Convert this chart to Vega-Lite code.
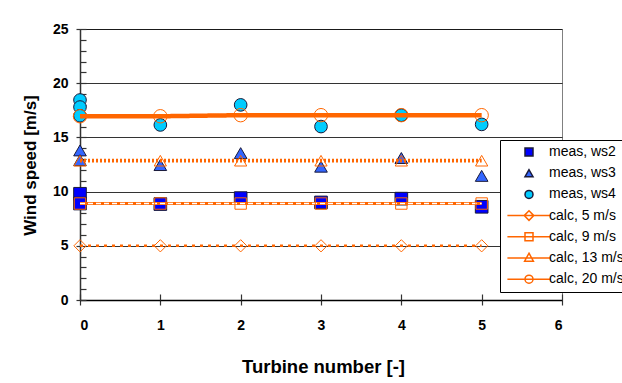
{
  "$schema": "https://vega.github.io/schema/vega-lite/v6.json",
  "width": 482,
  "height": 271,
  "autosize": "none",
  "padding": {"left": 80, "top": 29, "right": 60, "bottom": 83},
  "background": "white",
  "config": {
    "font": "Liberation Sans",
    "view": {"stroke": "#808080", "strokeWidth": 1},
    "axis": {
      "labelFont": "Liberation Sans", "labelFontWeight": "bold", "labelFontSize": 14, "labelColor": "black",
      "titleFont": "Liberation Sans", "titleFontWeight": "bold", "titleFontSize": 17, "titleColor": "black",
      "domainColor": "#333333", "tickColor": "#333333", "domainWidth": 1.5, "tickWidth": 1.2
    },
    "legend": {
      "orient": "none", "legendX": 420, "legendY": 111,
      "strokeColor": "black", "fillColor": "white", "padding": 5,
      "labelFont": "Liberation Sans", "labelFontSize": 14, "labelColor": "black",
      "symbolSize": 64, "symbolStrokeWidth": 1.5, "rowPadding": 5.2, "gridAlign": "all",
      "symbolOffset": 17, "labelOffset": 13
    }
  },
  "data": {"values": [
    {"turbine": 0, "speed": 9.8, "series": "meas, ws2"},
    {"turbine": 0, "speed": 8.9, "series": "meas, ws2"},
    {"turbine": 1, "speed": 8.85, "series": "meas, ws2"},
    {"turbine": 2, "speed": 9.4, "series": "meas, ws2"},
    {"turbine": 3, "speed": 9.0, "series": "meas, ws2"},
    {"turbine": 4, "speed": 9.35, "series": "meas, ws2"},
    {"turbine": 5, "speed": 8.6, "series": "meas, ws2"},
    {"turbine": 0, "speed": 13.8, "series": "meas, ws3"},
    {"turbine": 0, "speed": 12.9, "series": "meas, ws3"},
    {"turbine": 1, "speed": 12.45, "series": "meas, ws3"},
    {"turbine": 2, "speed": 13.55, "series": "meas, ws3"},
    {"turbine": 3, "speed": 12.3, "series": "meas, ws3"},
    {"turbine": 4, "speed": 13.1, "series": "meas, ws3"},
    {"turbine": 5, "speed": 11.45, "series": "meas, ws3"},
    {"turbine": 0, "speed": 18.45, "series": "meas, ws4"},
    {"turbine": 0, "speed": 17.8, "series": "meas, ws4"},
    {"turbine": 0, "speed": 17.0, "series": "meas, ws4"},
    {"turbine": 1, "speed": 16.15, "series": "meas, ws4"},
    {"turbine": 2, "speed": 18.0, "series": "meas, ws4"},
    {"turbine": 3, "speed": 16.0, "series": "meas, ws4"},
    {"turbine": 4, "speed": 17.05, "series": "meas, ws4"},
    {"turbine": 5, "speed": 16.2, "series": "meas, ws4"},
    {"turbine": 0, "speed": 5.0, "series": "calc, 5 m/s"},
    {"turbine": 1, "speed": 5.0, "series": "calc, 5 m/s"},
    {"turbine": 2, "speed": 5.0, "series": "calc, 5 m/s"},
    {"turbine": 3, "speed": 5.0, "series": "calc, 5 m/s"},
    {"turbine": 4, "speed": 5.0, "series": "calc, 5 m/s"},
    {"turbine": 5, "speed": 5.0, "series": "calc, 5 m/s"},
    {"turbine": 0, "speed": 8.9, "series": "calc, 9 m/s"},
    {"turbine": 1, "speed": 8.9, "series": "calc, 9 m/s"},
    {"turbine": 2, "speed": 8.9, "series": "calc, 9 m/s"},
    {"turbine": 3, "speed": 8.9, "series": "calc, 9 m/s"},
    {"turbine": 4, "speed": 8.9, "series": "calc, 9 m/s"},
    {"turbine": 5, "speed": 8.9, "series": "calc, 9 m/s"},
    {"turbine": 0, "speed": 12.85, "series": "calc, 13 m/s"},
    {"turbine": 1, "speed": 12.85, "series": "calc, 13 m/s"},
    {"turbine": 2, "speed": 12.85, "series": "calc, 13 m/s"},
    {"turbine": 3, "speed": 12.85, "series": "calc, 13 m/s"},
    {"turbine": 4, "speed": 12.85, "series": "calc, 13 m/s"},
    {"turbine": 5, "speed": 12.85, "series": "calc, 13 m/s"},
    {"turbine": 0, "speed": 16.95, "series": "calc, 20 m/s"},
    {"turbine": 1, "speed": 16.95, "series": "calc, 20 m/s"},
    {"turbine": 2, "speed": 17.05, "series": "calc, 20 m/s"},
    {"turbine": 3, "speed": 17.05, "series": "calc, 20 m/s"},
    {"turbine": 4, "speed": 17.05, "series": "calc, 20 m/s"},
    {"turbine": 5, "speed": 17.05, "series": "calc, 20 m/s"}
  ]},
  "layer": [
    {
      "transform": [{"filter": "indexof(datum.series, 'meas') === 0"}],
      "mark": {"type": "point", "filled": true, "size": 160, "strokeWidth": 1, "opacity": 1},
      "encoding": {
        "x": {"field": "turbine", "type": "quantitative", "scale": {"domain": [0, 6], "nice": false},
          "axis": {"orient": "bottom", "values": [0, 1, 2, 3, 4, 5, 6], "tickSize": 5, "labelPadding": 13, "grid": false,
            "title": "Turbine number [-]", "titleX": 243, "titleY": 66, "titleBaseline": "middle", "titleFontSize": 18.5, "domainColor": "#000000"}},
        "y": {"field": "speed", "type": "quantitative", "scale": {"domain": [0, 25], "nice": false},
          "axis": {"orient": "left", "values": [0, 5, 10, 15, 20, 25], "tickSize": 4, "labelPadding": 8, "grid": true,
            "gridColor": "#000000", "gridOpacity": 0.8, "gridWidth": 1,
            "title": "Wind speed [m/s]", "titleX": -50, "titleY": 136, "titleBaseline": "middle", "titleAlign": "center", "titleAngle": -90}},
        "shape": {"field": "series", "type": "nominal", "title": null,
          "scale": {"domain": ["meas, ws2", "meas, ws3", "meas, ws4", "calc, 5 m/s", "calc, 9 m/s", "calc, 13 m/s", "calc, 20 m/s"],
            "range": ["square", "triangle-up", "circle",
              "M-5.4,0H5.4M0,-1.2L1.2,0L0,1.2L-1.2,0Z",
              "M-5.4,0H5.4M-1,-1H1V1H-1Z",
              "M-5.4,0H5.4M0,-1.2L1.1,0.8H-1.1Z",
              "M-5.4,0H5.4M1,0A1,1 0 1,1 -1,0A1,1 0 1,1 1,0Z"]}},
        "fill": {"field": "series", "type": "nominal", "title": null,
          "scale": {"domain": ["meas, ws2", "meas, ws3", "meas, ws4", "calc, 5 m/s", "calc, 9 m/s", "calc, 13 m/s", "calc, 20 m/s"],
            "range": ["#0000FF", "#3366FF", "#00CCFF", "#FFFFFF", "#FFFFFF", "#FFFFFF", "#FFFFFF"]}},
        "stroke": {"field": "series", "type": "nominal", "title": null,
          "scale": {"domain": ["meas, ws2", "meas, ws3", "meas, ws4", "calc, 5 m/s", "calc, 9 m/s", "calc, 13 m/s", "calc, 20 m/s"],
            "range": ["#1a1a3a", "#1a1a3a", "#1a1a3a", "#FF6600", "#FF6600", "#FF6600", "#FF6600"]}}
      }
    },
    {
      "transform": [{"filter": "indexof(datum.series, 'calc') === 0"}],
      "mark": {"type": "line"},
      "encoding": {
        "x": {"field": "turbine", "type": "quantitative", "scale": {"domain": [0, 6], "nice": false},
          "axis": {"orient": "bottom", "values": [0, 1, 2, 3, 4, 5, 6], "tickSize": -6, "labels": false, "domain": false, "grid": false, "title": null}},
        "y": {"field": "speed", "type": "quantitative", "scale": {"domain": [0, 25], "nice": false},
          "axis": {"orient": "left", "values": [0,1,2,3,4,5,6,7,8,9,10,11,12,13,14,15,16,17,18,19,20,21,22,23,24,25], "tickSize": -6, "labels": false, "domain": false, "grid": false, "title": null}},
        "stroke": {"field": "series", "type": "nominal", "title": null,
          "scale": {"domain": ["meas, ws2", "meas, ws3", "meas, ws4", "calc, 5 m/s", "calc, 9 m/s", "calc, 13 m/s", "calc, 20 m/s"],
            "range": ["#1a1a3a", "#1a1a3a", "#1a1a3a", "#FF6600", "#FF6600", "#FF6600", "#FF6600"]}},
        "strokeDash": {"field": "series", "type": "nominal", "legend": null,
          "scale": {"domain": ["calc, 5 m/s", "calc, 9 m/s", "calc, 13 m/s", "calc, 20 m/s"],
            "range": [[3, 5], [1, 0], [2, 2], [1, 0]]}},
        "strokeWidth": {"field": "series", "type": "nominal", "legend": null,
          "scale": {"domain": ["calc, 5 m/s", "calc, 9 m/s", "calc, 13 m/s", "calc, 20 m/s"],
            "range": [2.5, 4.5, 3, 2.2]}}
      }
    },
    {
      "transform": [{"filter": "datum.series === 'calc, 9 m/s'"}],
      "mark": {"type": "line", "stroke": "#FFFFFF", "strokeWidth": 1.5, "strokeDash": [5, 3]},
      "encoding": {
        "x": {"field": "turbine", "type": "quantitative", "axis": null},
        "y": {"field": "speed", "type": "quantitative", "axis": null}
      }
    },
    {
      "transform": [{"filter": "datum.series === 'calc, 5 m/s'"}],
      "mark": {"type": "point", "shape": "diamond", "filled": false, "stroke": "#FF6600", "strokeWidth": 1, "size": 150, "opacity": 1},
      "encoding": {
        "x": {"field": "turbine", "type": "quantitative", "axis": null},
        "y": {"field": "speed", "type": "quantitative", "axis": null}
      }
    },
    {
      "transform": [{"filter": "datum.series === 'calc, 9 m/s'"}],
      "mark": {"type": "point", "shape": "square", "filled": false, "stroke": "#FF6600", "strokeWidth": 1, "size": 130, "opacity": 1},
      "encoding": {
        "x": {"field": "turbine", "type": "quantitative", "axis": null},
        "y": {"field": "speed", "type": "quantitative", "axis": null}
      }
    },
    {
      "transform": [{"filter": "datum.series === 'calc, 13 m/s'"}],
      "mark": {"type": "point", "shape": "triangle-up", "filled": false, "stroke": "#FF6600", "strokeWidth": 1, "size": 150, "opacity": 1},
      "encoding": {
        "x": {"field": "turbine", "type": "quantitative", "axis": null},
        "y": {"field": "speed", "type": "quantitative", "axis": null}
      }
    },
    {
      "transform": [{"filter": "datum.series === 'calc, 20 m/s'"}],
      "mark": {"type": "point", "shape": "circle", "filled": false, "stroke": "#FF6600", "strokeWidth": 1, "size": 180, "opacity": 1},
      "encoding": {
        "x": {"field": "turbine", "type": "quantitative", "axis": null},
        "y": {"field": "speed", "type": "quantitative", "axis": null}
      }
    }
  ],
  "resolve": {"axis": {"x": "independent", "y": "independent"}}
}
